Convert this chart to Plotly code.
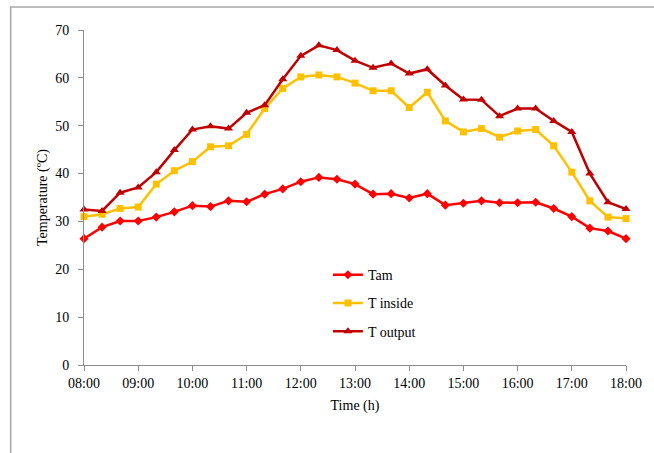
import plotly.graph_objects as go

times = ["08:00", "08:20", "08:40", "09:00", "09:20", "09:40", "10:00", "10:20", "10:40",
         "11:00", "11:20", "11:40", "12:00", "12:20", "12:40", "13:00", "13:20", "13:40",
         "14:00", "14:20", "14:40", "15:00", "15:20", "15:40", "16:00", "16:20", "16:40",
         "17:00", "17:20", "17:40", "18:00"]
hour_ticks = ["08:00", "09:00", "10:00", "11:00", "12:00", "13:00", "14:00", "15:00",
              "16:00", "17:00", "18:00"]

t_am = [26.4, 28.8, 30.1, 30.1, 30.9, 32.0, 33.3, 33.1, 34.3, 34.1, 35.7, 36.8, 38.3, 39.2,
        38.8, 37.8, 35.7, 35.8, 34.9, 35.8, 33.4, 33.8, 34.3, 33.9, 33.9, 34.0, 32.7, 31.0,
        28.6, 28.0, 26.4]
t_inside = [31.0, 31.5, 32.7, 33.0, 37.8, 40.6, 42.5, 45.6, 45.8, 48.2, 53.6, 57.8, 60.2, 60.6,
            60.2, 58.9, 57.3, 57.3, 53.8, 57.0, 51.0, 48.7, 49.4, 47.6, 48.9, 49.2, 45.8, 40.3,
            34.3, 30.9, 30.6]
t_output = [32.5, 32.2, 36.0, 37.1, 40.3, 44.9, 49.2, 49.9, 49.4, 52.7, 54.3, 59.7, 64.6, 66.8,
            65.8, 63.6, 62.1, 63.0, 60.9, 61.8, 58.4, 55.5, 55.4, 52.0, 53.6, 53.6, 51.0, 48.7,
            40.0, 34.0, 32.6]
y_ticks = [0, 10, 20, 30, 40, 50, 60, 70]

series = [
    ("Tam", t_am, "#FF0000", "diamond", 7),
    ("T inside", t_inside, "#FFC000", "square", 7),
    ("T output", t_output, "#C00000", "triangle-up", 8),
]

fig = go.Figure()
for name, vals, color, sym, size in series:
    fig.add_trace(go.Scatter(
        x=times, y=vals, name=name, mode="lines+markers",
        line=dict(color=color, width=2.5),
        marker=dict(color=color, symbol=sym, size=size),
        cliponaxis=False, legendgroup=name,
    ))

font = "Liberation Serif"
axis_col = "#8C8C8C"
fig.update_layout(
    width=654, height=453,
    margin=dict(l=84, r=23, t=30, b=88),
    paper_bgcolor="white", plot_bgcolor="white",
    font=dict(family=font, size=14, color="#000000"),
    showlegend=True,
    legend=dict(x=0.45, y=0.316, xanchor="left", yanchor="top",
                bgcolor="rgba(0,0,0,0)", traceorder="grouped", tracegroupgap=7,
                font=dict(family=font, size=14, color="#000000")),
    xaxis=dict(type="category", range=[0, len(times) - 1], tickvals=hour_ticks,
               showgrid=False, showline=True, linecolor=axis_col, linewidth=1,
               ticks="outside", ticklen=5, tickcolor=axis_col,
               title=dict(text="Time (h)", standoff=10, font=dict(family=font, size=14)),
               tickfont=dict(family=font, size=14)),
    yaxis=dict(range=[0, 70], tickvals=y_ticks, showgrid=False, showline=True,
               linecolor=axis_col, linewidth=1, ticks="outside", ticklen=5,
               tickcolor=axis_col, ticklabelstandoff=6, zeroline=False,
               title=dict(text="Temperature (ºC)", standoff=4, font=dict(family=font, size=14)),
               tickfont=dict(family=font, size=14)),
    shapes=[dict(type="rect", xref="paper", yref="paper",
                 x0=-0.1353, x1=1.2, y0=-0.6, y1=1.0687,
                 line=dict(color="#A6A6A6", width=1.5), fillcolor="rgba(0,0,0,0)",
                 layer="below")],
)

fig.write_html("out.html")
